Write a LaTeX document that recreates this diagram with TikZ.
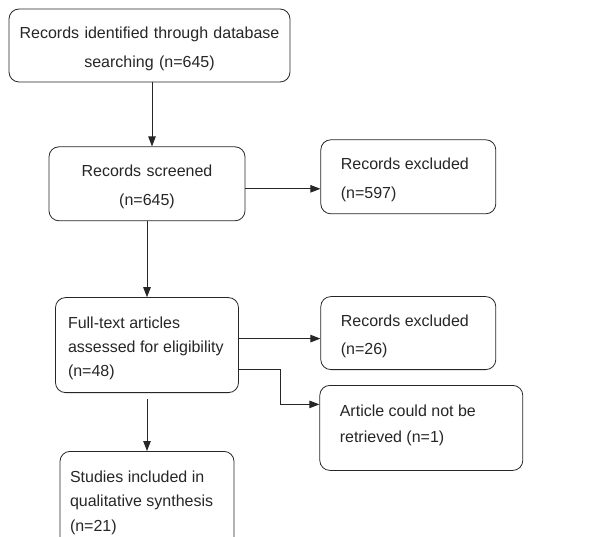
\documentclass[tikz,border=0pt]{standalone}
\usepackage{fontspec}
\setmainfont{Liberation Sans}
\usetikzlibrary{arrows.meta, positioning}

\begin{document}
\begin{tikzpicture}[x=1pt, y=1pt, >={Triangle[length=10pt, width=7.5pt]},
        box/.style={draw=black!85, rectangle, rounded corners=10pt, line width=0.8pt, text=black!85, font=\fontsize{16}{28.5}\selectfont, execute at begin node={\rule{0pt}{18pt}}},
        flow/.style={->, line width=0.8pt, draw=black!85}]

    \useasboundingbox (0,0) rectangle (613,-537);

    % Main column of the flowchart
    \node[box, align=center, text width=270pt, inner xsep=5.5pt, minimum height=73pt] (ident) at (149.5,-45.5) {Records identified through database\\searching (n=645)};
    \node[box, align=center, text width=185pt, inner xsep=5.5pt, minimum height=74pt, below=64pt of ident, xshift=-2.5pt] (screen) {Records screened\\(n=645)};
    \node[box, align=flush left, text width=158pt, inner xsep=12.5pt, minimum height=95pt, font=\fontsize{16}{24.3}\selectfont, below=76pt of screen] (fulltext) {Full-text articles\\assessed for eligibility\\(n=48)};
    \node[box, align=flush left, text width=154pt, inner xsep=10pt, minimum height=96pt, font=\fontsize{16}{24.3}\selectfont, below=58pt of fulltext] (incl) {Studies included in\\qualitative synthesis\\(n=21)};

    % Excluded records on the right
    \node[box, align=flush left, text width=135pt, inner xsep=20pt, minimum height=74pt, right=75pt of screen, yshift=7pt] (excl1) {Records excluded\\(n=597)};
    \node[box, align=flush left, text width=135pt, inner xsep=20pt, minimum height=73pt, right=81.5pt of fulltext, yshift=12pt] (excl2) {Records excluded\\(n=26)};
    \node[box, align=flush left, text width=163pt, inner xsep=20pt, minimum height=85pt, font=\fontsize{16}{26.5}\selectfont, execute at begin node={}, execute at end node={\rule[-15pt]{0pt}{15pt}}, below=15pt of excl2, xshift=13pt] (retr) {Article could not be\\retrieved (n=1)};

    % Connectors
    \draw[flow] ([xshift=2.5pt]ident.south) -- ([xshift=2.5pt]ident.south |- screen.north);
    \draw[flow] ([yshift=-5pt]screen.east) -- ([yshift=-5pt]screen.east -| excl1.west);
    \draw[flow] (screen.south) -- (fulltext.north);
    \draw[flow] ([yshift=6.5pt]fulltext.east) -- ([yshift=6.5pt]fulltext.east -| excl2.west);
    \draw[flow] ([yshift=-24.5pt]fulltext.east) -- ++(41pt,0) |- ([yshift=23.5pt]retr.west);
    \draw[flow] ([yshift=-6pt]fulltext.south) -- (incl.north);
\end{tikzpicture}
\end{document}
